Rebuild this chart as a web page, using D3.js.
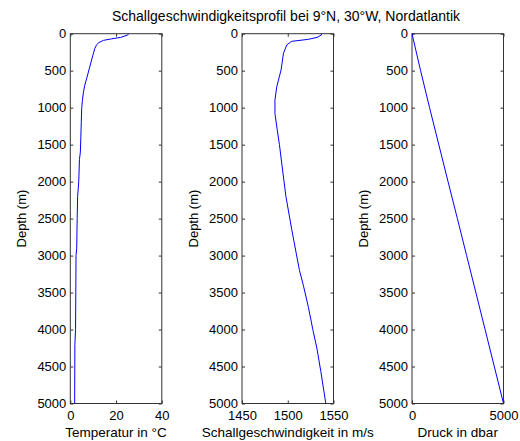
<!DOCTYPE html>
<html>
  <head>
    <meta charset="UTF-8" />
    <style>
      body { margin: 0; background: #fff; }
      text { font-family: "Liberation Sans", Arial, sans-serif; }
    </style>
  </head>
  <body>
    <svg></svg>
    <script src="https://d3js.org/d3.v7.min.js"></script>
    <script>
      let width = 520,
        height = 441;

      // Temperatur (depth m, °C)
      const tempDepth = [0, 20, 50, 70, 90, 120, 150, 200, 300, 450, 600, 700, 800, 900, 1000, 1200, 1400, 1600, 1700, 2000, 2200, 2500, 2900, 3000, 3500, 4000, 4200, 5000];
      const tempValue = [25.5, 25.0, 22, 18, 14.5, 12.5, 11.5, 10.7, 9.8, 8.5, 7.2, 6.3, 5.7, 5.3, 5.0, 4.8, 4.6, 4.4, 4.0, 3.7, 3.2, 3.0, 2.8, 2.5, 2.4, 2.3, 2.0, 1.9];

      // Schallgeschwindigkeit (depth m, m/s)
      const soundDepth = [0, 20, 50, 76, 103, 150, 265, 490, 717, 900, 1080, 1300, 1500, 1750, 2200, 2650, 3200, 3400, 3700, 4000, 4250, 4570, 5000];
      const soundValue = [1537, 1536.5, 1532, 1522.6, 1504.4, 1499, 1495.3, 1492.7, 1488, 1486, 1486, 1488.5, 1490.9, 1493.4, 1498, 1504.4, 1512.8, 1517, 1522.6, 1527.4, 1531.8, 1536.2, 1541.6];

      // Druck (depth m, dbar)
      const pressDepth = [0, 500, 1000, 2000, 2500, 3000, 4000, 5000];
      const pressValue = [0, 470, 960, 1970, 2480, 2985, 3995, 5000];

      const depthTicks = [0, 500, 1000, 1500, 2000, 2500, 3000, 3500, 4000, 4500, 5000];

      const panels = [
        { left: 70.3, domain: [0, 40], ticks: [0, 20, 40], label: "Temperatur in \u00B0C", depth: tempDepth, values: tempValue },
        { left: 242, domain: [1450, 1550], ticks: [1450, 1500, 1550], label: "Schallgeschwindigkeit in m/s", depth: soundDepth, values: soundValue },
        { left: 412, domain: [0, 5000], ticks: [0, 5000], label: "Druck in dbar", depth: pressDepth, values: pressValue }
      ];
      const panelWidth = 91.5;
      const plotTop = 33.7, plotBottom = 403.5;

      let svg = d3.select("svg").attr("width", width).attr("height", height);

      svg.append("rect").attr("width", width).attr("height", height).attr("fill", "#fff");

      svg.append("text")
        .attr("x", 286)
        .attr("y", 21)
        .attr("text-anchor", "middle")
        .attr("font-size", 14)
        .text("Schallgeschwindigkeitsprofil bei 9\u00B0N, 30\u00B0W, Nordatlantik");

      let y = d3.scaleLinear().domain([0, 5000]).range([plotTop, plotBottom]);

      panels.forEach((p) => {
        let x = d3.scaleLinear().domain(p.domain).range([p.left, p.left + panelWidth]);
        let g = svg.append("g");

        // left axis with labels
        g.append("g")
          .attr("transform", `translate(${p.left},0)`)
          .call(d3.axisLeft(y).tickValues(depthTicks).tickSizeInner(-3).tickSizeOuter(0).tickPadding(4).tickFormat(d3.format("d")))
          .call((a) => a.select(".domain").remove())
          .call((a) => a.selectAll("text").attr("font-size", 13).attr("fill", "#000").attr("font-family", "Liberation Sans, Arial"));

        // right axis ticks
        g.append("g")
          .attr("transform", `translate(${p.left + panelWidth},0)`)
          .call(d3.axisRight(y).tickValues(depthTicks).tickSizeInner(-3).tickSizeOuter(0).tickFormat(""))
          .call((a) => a.select(".domain").remove());

        // bottom axis with labels
        g.append("g")
          .attr("transform", `translate(0,${plotBottom})`)
          .call(d3.axisBottom(x).tickValues(p.ticks).tickSizeInner(-3).tickSizeOuter(0).tickPadding(7).tickFormat(d3.format("d")))
          .call((a) => a.select(".domain").remove())
          .call((a) => a.selectAll("text").attr("font-size", 13).attr("fill", "#000").attr("font-family", "Liberation Sans, Arial"));

        // top axis ticks
        g.append("g")
          .attr("transform", `translate(0,${plotTop})`)
          .call(d3.axisTop(x).tickValues(p.ticks).tickSizeInner(-3).tickSizeOuter(0).tickFormat(""))
          .call((a) => a.select(".domain").remove());

        g.selectAll(".tick line").attr("stroke", "#333");

        // box
        g.append("rect")
          .attr("x", p.left)
          .attr("y", plotTop)
          .attr("width", panelWidth)
          .attr("height", plotBottom - plotTop)
          .attr("fill", "none")
          .attr("stroke", "#333")
          .attr("stroke-width", 1);

        // data line
        let line = d3.line()
          .x((d, i) => x(p.values[i]))
          .y((d) => y(d));

        g.append("path")
          .datum(p.depth)
          .attr("fill", "none")
          .attr("stroke", "#0000ff")
          .attr("stroke-width", 1)
          .attr("d", line);

        // labels
        g.append("text")
          .attr("x", p.left + panelWidth / 2)
          .attr("y", 437)
          .attr("text-anchor", "middle")
          .attr("font-size", 13.5)
          .text(p.label);

        g.append("text")
          .attr("transform", `translate(${p.left - 44},${(plotTop + plotBottom) / 2}) rotate(-90)`)
          .attr("text-anchor", "middle")
          .attr("font-size", 13)
          .text("Depth (m)");
      });
    </script>
  </body>
</html>
